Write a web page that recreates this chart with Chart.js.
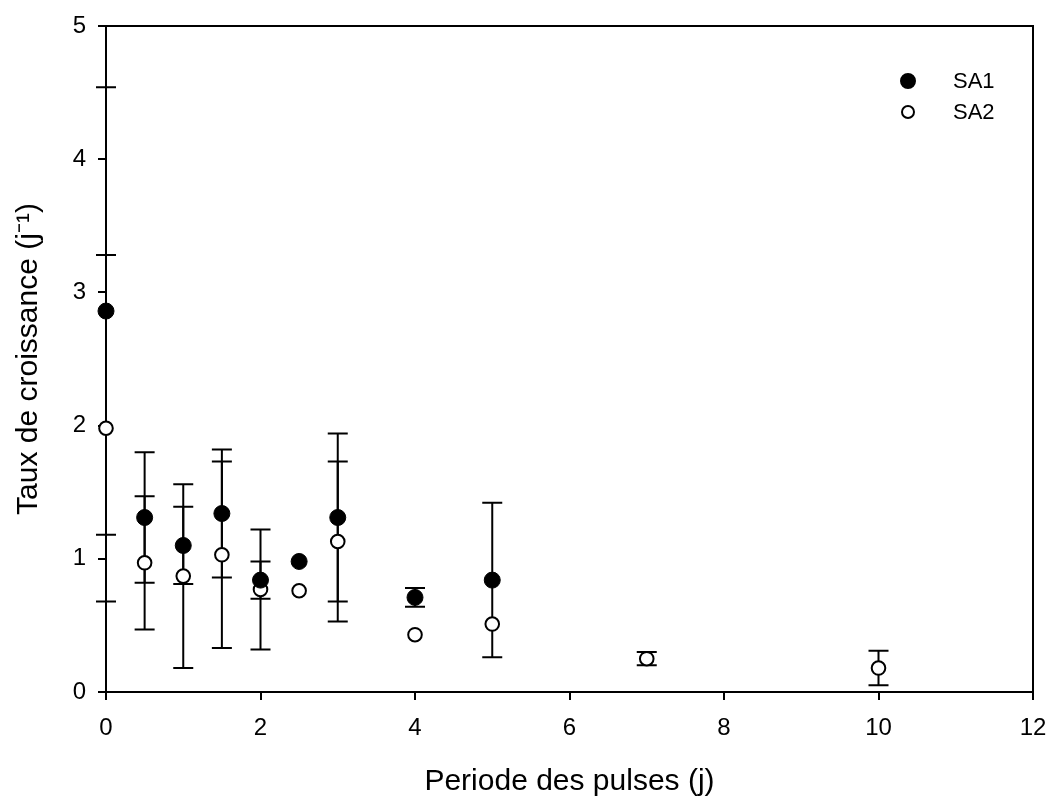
<!DOCTYPE html>
<html>
<head>
<meta charset="utf-8">
<script src="https://cdn.jsdelivr.net/npm/chart.js@4"></script>
<style>
  body { margin: 0; background: #fff; }
  #wrap { width: 1050px; height: 800px; }
</style>
</head>
<body>
<div id="wrap"><canvas id="c" width="1050" height="800"></canvas></div>
<script>
// pulse period (days)
const periodsSA1 = [0, 0.5, 1, 1.5, 2, 2.5, 3, 4, 5];
const rateSA1 = [2.86, 1.31, 1.10, 1.34, 0.84, 0.98, 1.31, 0.71, 0.84];
const errSA1 = [1.68, 0.49, 0.29, 0.48, 0.14, 0, 0.63, 0.07, 0.58];

const periodsSA2 = [0, 0.5, 1, 1.5, 2, 2.5, 3, 4, 5, 7, 10];
const rateSA2 = [1.98, 0.97, 0.87, 1.03, 0.77, 0.76, 1.13, 0.43, 0.51, 0.25, 0.18];
const errSA2 = [1.30, 0.50, 0.69, 0.70, 0.45, 0, 0.60, 0, 0, 0.05, 0.13];

const xTicks = [0, 2, 4, 6, 8, 10, 12];
const yTicks = [0, 1, 2, 3, 4, 5];

const FONT = '"Liberation Sans", Arial, sans-serif';

function pts(xs, ys, es) {
  return xs.map((x, i) => ({ x: x, y: ys[i], err: es[i] }));
}

// error bars, drawn under the markers
const errorBars = {
  id: 'errorBars',
  beforeDatasetsDraw(chart) {
    const ctx = chart.ctx;
    const xs = chart.scales.x, ys = chart.scales.y;
    ctx.save();
    ctx.strokeStyle = '#000';
    ctx.lineWidth = 2;
    chart.data.datasets.forEach(ds => {
      ds.data.forEach(p => {
        if (!p.err) return;
        const px = xs.getPixelForValue(p.x);
        const top = ys.getPixelForValue(p.y + p.err);
        const bot = ys.getPixelForValue(p.y - p.err);
        ctx.beginPath();
        ctx.moveTo(px, top); ctx.lineTo(px, bot);
        ctx.moveTo(px - 10, top); ctx.lineTo(px + 10, top);
        ctx.moveTo(px - 10, bot); ctx.lineTo(px + 10, bot);
        ctx.stroke();
      });
    });
    ctx.restore();
  }
};

// box around the plot + legend in the top right corner
const frameAndLegend = {
  id: 'frameAndLegend',
  afterDraw(chart) {
    const ctx = chart.ctx;
    const a = chart.chartArea;
    ctx.save();
    ctx.strokeStyle = '#000';
    ctx.lineWidth = 2;
    ctx.beginPath();
    ctx.moveTo(a.left, a.top); ctx.lineTo(a.right, a.top); ctx.lineTo(a.right, a.bottom);
    ctx.stroke();

    ctx.font = '22px ' + FONT;
    ctx.textBaseline = 'middle';
    chart.data.datasets.forEach((ds, i) => {
      const y = 81 + i * 31;
      ctx.beginPath();
      ctx.arc(908, y, i === 0 ? 7 : 6, 0, Math.PI * 2);
      ctx.fillStyle = ds.pointBackgroundColor;
      ctx.fill();
      ctx.lineWidth = 2;
      ctx.stroke();
      ctx.fillStyle = '#000';
      ctx.fillText(ds.label, 953, y + 1);
    });
    ctx.restore();
  }
};

new Chart(document.getElementById('c'), {
  type: 'scatter',
  data: {
    datasets: [
      {
        label: 'SA1',
        data: pts(periodsSA1, rateSA1, errSA1),
        pointRadius: 8,
        pointBackgroundColor: '#000',
        pointBorderColor: '#000',
        pointBorderWidth: 1,
        clip: false
      },
      {
        label: 'SA2',
        data: pts(periodsSA2, rateSA2, errSA2),
        pointRadius: 6.8,
        pointBackgroundColor: '#fff',
        pointBorderColor: '#000',
        pointBorderWidth: 2,
        clip: false
      }
    ]
  },
  options: {
    responsive: false,
    animation: false,
    layout: { padding: { top: 26, right: 17, left: 0, bottom: 0 } },
    plugins: {
      legend: { display: false },
      tooltip: { enabled: false }
    },
    scales: {
      x: {
        type: 'linear',
        min: 0, max: 12,
        afterBuildTicks: s => { s.ticks = xTicks.map(v => ({ value: v })); },
        afterFit: s => { s.height = 108; s.paddingLeft = 0; s.paddingRight = 0; },
        border: { color: '#000', width: 2 },
        grid: { drawOnChartArea: false, color: '#000', lineWidth: 2, tickLength: 8 },
        ticks: { color: '#000', padding: 14, font: { family: FONT, size: 24 } },
        title: {
          display: true,
          text: 'Periode des pulses (j)',
          color: '#000',
          font: { family: FONT, size: 30 },
          padding: { top: 10, bottom: 0 }
        }
      },
      y: {
        type: 'linear',
        min: 0, max: 5,
        afterBuildTicks: s => { s.ticks = yTicks.map(v => ({ value: v })); },
        afterFit: s => { s.width = 106; s.paddingTop = 0; s.paddingBottom = 0; },
        border: { color: '#000', width: 2 },
        grid: { drawOnChartArea: false, color: '#000', lineWidth: 2, tickLength: 8 },
        ticks: { color: '#000', padding: 12, font: { family: FONT, size: 24 } },
        title: {
          display: true,
          text: 'Taux de croissance (j⁻¹)',
          color: '#000',
          font: { family: FONT, size: 30 },
          padding: { top: 11, bottom: 0 }
        }
      }
    }
  },
  plugins: [errorBars, frameAndLegend]
});
</script>
</body>
</html>
